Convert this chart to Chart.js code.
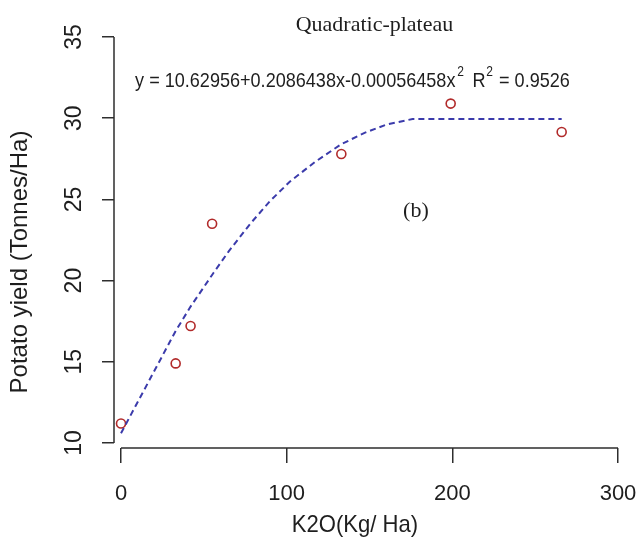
<!DOCTYPE html>
<html>
<head>
<meta charset="utf-8">
<title>Quadratic-plateau</title>
<script src="https://cdn.jsdelivr.net/npm/chart.js@4.4.1/dist/chart.umd.min.js"></script>
<style>
  body { margin: 0; background: #fff; }
  #wrap { width: 636px; height: 539px; position: relative; }
</style>
</head>
<body>
<div id="wrap"><canvas id="yield-chart"></canvas></div>
<script>
// observed points (K2O dose vs potato yield)
const k2o = [0, 33, 42, 55, 133, 199, 266];
const yieldObs = [11.2, 14.9, 17.2, 23.5, 27.8, 30.9, 29.15];

// fitted quadratic-plateau curve
const fitX = [0, 33, 42, 56, 65, 78, 90, 102, 117, 133, 147, 160, 176, 266];
const fitY = [10.6, 16.9, 18.4, 20.5, 21.8, 23.5, 24.9, 26.1, 27.3, 28.4, 29.1, 29.6, 29.95, 29.95];

const xTicks = [0, 100, 200, 300];
const yTicks = [10, 15, 20, 25, 30, 35];

const titleText = "Quadratic-plateau";
const eqText = "y = 10.62956+0.2086438x-0.00056458x";
const r2Text = "= 0.9526";
const panelText = "(b)";
const xTitle = "K2O(Kg/ Ha)";
const yTitle = "Potato yield (Tonnes/Ha)";

const axisColor = "#2e2e2e";
const textColor = "#1e1e1e";

// R style axes: lines only over the tick range, plus the annotation texts
const rAxes = {
  id: "rAxes",
  afterDraw(chart) {
    const ctx = chart.ctx;
    const xs = chart.scales.x;
    const ys = chart.scales.y;
    const area = chart.chartArea;
    ctx.save();
    ctx.strokeStyle = axisColor;
    ctx.lineWidth = 1.5;
    ctx.beginPath();
    ctx.moveTo(area.left, ys.getPixelForValue(yTicks[0]));
    ctx.lineTo(area.left, ys.getPixelForValue(yTicks[yTicks.length - 1]));
    ctx.moveTo(xs.getPixelForValue(xTicks[0]), area.bottom);
    ctx.lineTo(xs.getPixelForValue(xTicks[xTicks.length - 1]), area.bottom);
    ctx.stroke();

    ctx.fillStyle = textColor;

    // main title
    ctx.font = "22px 'Liberation Serif', serif";
    ctx.textAlign = "center";
    ctx.textBaseline = "alphabetic";
    ctx.fillText(titleText, xs.getPixelForValue(153), 31);

    // equation, slightly narrow like the original
    ctx.save();
    ctx.translate(xs.getPixelForValue(8.5), 87);
    ctx.scale(0.86, 1);
    ctx.textAlign = "left";
    ctx.font = "21px 'Liberation Sans', Arial, sans-serif";
    let w = ctx.measureText(eqText).width;
    ctx.fillText(eqText, 0, 0);
    ctx.font = "14px 'Liberation Sans', Arial, sans-serif";
    ctx.fillText("2", w + 2, -11);
    w += 2 + ctx.measureText("2").width + 10;
    ctx.font = "21px 'Liberation Sans', Arial, sans-serif";
    ctx.fillText("R", w, 0);
    w += ctx.measureText("R").width + 1;
    ctx.font = "14px 'Liberation Sans', Arial, sans-serif";
    ctx.fillText("2", w, -11);
    w += ctx.measureText("2").width + 7;
    ctx.font = "21px 'Liberation Sans', Arial, sans-serif";
    ctx.fillText(r2Text, w, 0);
    ctx.restore();

    // panel label
    ctx.font = "22px 'Liberation Serif', serif";
    ctx.textAlign = "center";
    ctx.textBaseline = "middle";
    ctx.fillText(panelText, xs.getPixelForValue(178), ys.getPixelForValue(24.3));

    // axis titles
    ctx.font = "24px 'Liberation Sans', Arial, sans-serif";
    ctx.save();
    ctx.translate(355, 525);
    ctx.scale(0.92, 1);
    ctx.fillText(xTitle, 0, 0);
    ctx.restore();

    ctx.save();
    ctx.translate(20, 262);
    ctx.rotate(-Math.PI / 2);
    ctx.fillText(yTitle, 0, 0);
    ctx.restore();

    ctx.restore();
  }
};

new Chart(document.getElementById("yield-chart"), {
  type: "scatter",
  data: {
    datasets: [
      {
        label: "fit",
        data: fitX.map((x, i) => ({ x: x, y: fitY[i] })),
        showLine: true,
        borderColor: "#3b3bab",
        borderWidth: 2,
        borderDash: [6, 4],
        pointRadius: 0,
        fill: false,
        tension: 0
      },
      {
        label: "observed",
        data: k2o.map((x, i) => ({ x: x, y: yieldObs[i] })),
        showLine: false,
        pointStyle: "circle",
        pointRadius: 4.5,
        borderWidth: 1.6,
        borderColor: "#b12a2a",
        backgroundColor: "rgba(255,255,255,0)"
      }
    ]
  },
  options: {
    responsive: true,
    maintainAspectRatio: false,
    animation: false,
    layout: { padding: { top: 37, right: 18, left: 0, bottom: 0 } },
    plugins: {
      legend: { display: false },
      tooltip: { enabled: false }
    },
    scales: {
      x: {
        type: "linear",
        min: -4.225,
        max: 300,
        afterBuildTicks: s => { s.ticks = xTicks.map(v => ({ value: v })); },
        afterFit: s => { s.height = 91; s.paddingLeft = 0; s.paddingRight = 0; },
        grid: {
          display: true,
          drawOnChartArea: false,
          drawTicks: true,
          tickLength: 15,
          color: axisColor,
          lineWidth: 1.5
        },
        border: { display: false },
        ticks: {
          color: textColor,
          padding: 18,
          maxRotation: 0,
          font: { family: "'Liberation Sans', Arial, sans-serif", size: 22 }
        }
      },
      y: {
        type: "linear",
        min: 9.692,
        max: 35,
        afterBuildTicks: s => { s.ticks = yTicks.map(v => ({ value: v })); },
        afterFit: s => { s.width = 114; s.paddingTop = 0; s.paddingBottom = 0; },
        grid: {
          display: true,
          drawOnChartArea: false,
          drawTicks: true,
          tickLength: 12,
          color: axisColor,
          lineWidth: 1.5
        },
        border: { display: false },
        ticks: {
          color: textColor,
          padding: 15,
          minRotation: 90,
          maxRotation: 90,
          crossAlign: "center",
          font: { family: "'Liberation Sans', Arial, sans-serif", size: 23 }
        }
      }
    }
  },
  plugins: [rAxes]
});
</script>
</body>
</html>
